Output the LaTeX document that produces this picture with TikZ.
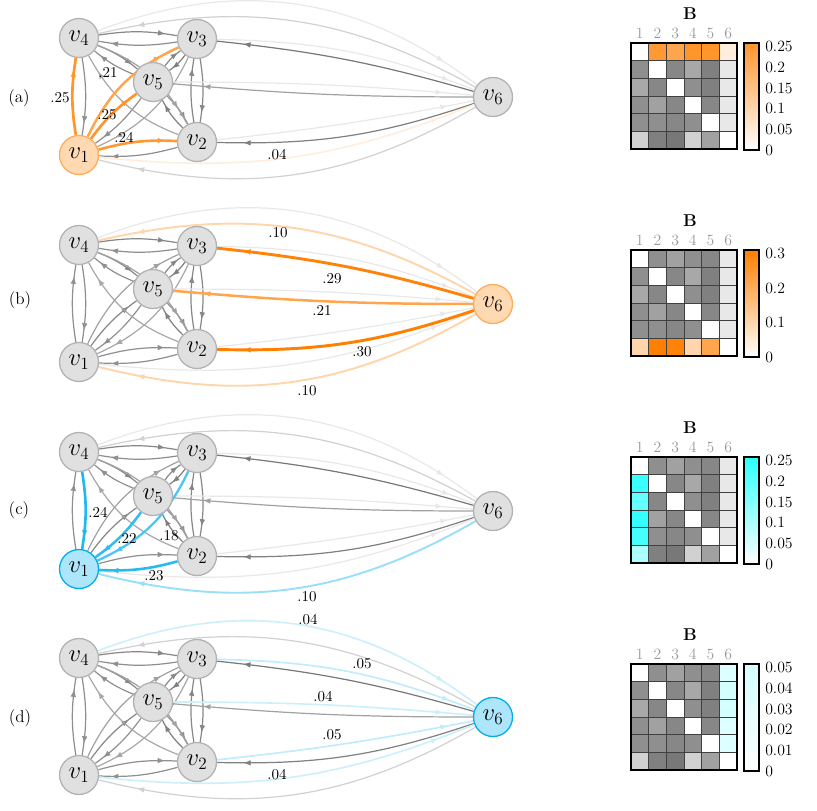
\documentclass[tikz,border=0pt]{standalone}
\usetikzlibrary{arrows.meta,decorations.markings,backgrounds}
\definecolor{eor}{RGB}{255,127,0}
\definecolor{ecy}{RGB}{0,174,239}
\definecolor{mcy}{RGB}{0,255,255}
\tikzset{
  vn/.style={circle, minimum size=27.3pt, inner sep=0pt, line width=0.9pt, draw=black!30, fill=black!12, font=\LARGE},
  vor/.style={vn, draw=eor!65!white, fill=eor!30!white},
  vcy/.style={vn, draw=ecy, fill=ecy!32!white},
  ge/.style={line width=0.85pt},
  arr/.style={postaction={decorate, decoration={markings, mark=at position #1 with {\arrow{Latex[length=5.2pt,width=4pt]}}}}},
  elab/.style={font=\fontsize{10.5}{12}\selectfont, inner sep=0pt},
  plab/.style={font=\large, inner sep=0pt},
  cbl/.style={anchor=west, inner sep=0pt, font=\fontsize{11}{13}\selectfont},
  coln/.style={text=black!40, inner sep=0pt, font=\fontsize{11}{13}\selectfont},
  mtitle/.style={inner sep=0pt, font=\large},
}
\newcommand\vnodes[4]{%
  \begin{scope}[shift={(0,#2)}]
    \node[vn] (#14) at (79,38) {$v_4$};
    \node[vn] (#13) at (197,39) {$v_3$};
    \node[vn] (#15) at (153,82) {$v_5$};
    \node[vn] (#12) at (197,142) {$v_2$};
    \node[#3] (#11) at (79,155) {$v_1$};
    \node[#4] (#16) at (493,97) {$v_6$};
  \end{scope}}
\newcommand\grayedges[3]{%
  \foreach \va/\vb/\vbend/\vg/\vp in {4/3/9/47/.85, 3/4/9/44/.85, 4/1/9/44/.85, 1/4/9/44/.85,
     3/2/9/47/.85, 2/3/9/47/.85, 1/2/9/44/.85, 2/1/9/44/.85, 4/5/9/47/.85, 5/4/9/44/.85,
     3/5/9/50/.85, 5/3/9/47/.85, 2/5/9/50/.85, 5/2/9/44/.85, 1/5/9/47/.85, 5/1/9/44/.85,
     4/2/20/37/.85, 2/4/20/34/.85, 1/3/20/37/.85, 3/1/20/34/.85,
     4/6/29/9/.9, 6/4/-21/18/.9, 3/6/10/9/.9, 6/3/-5/53/.9, 5/6/2.5/9/.9, 6/5/2.5/37/.9,
     2/6/-2.5/9/.9, 6/2/10/50/.9, 1/6/-14/9/.9, 6/1/22/18/.9}{%
    \ifnum\va=#2\relax\else\ifnum\vb=#3\relax\else
      \draw[ge, color=black!\vg, arr=\vp] (#1\va) to[bend left=\vbend] (#1\vb);
    \fi\fi}}
\newcommand\hedge[7]{\draw[color=#5, line width=#6, arr=#7] (#1#2) to[bend left=#4] (#1#3);}
\newcommand\bmat[5]{%
  \begin{scope}[shift={(631,43+#2)}]
    \fill[white] (0,0) rectangle (106,106);
    \foreach \r/\c/\g in {1/2/44, 1/3/37, 1/4/44, 1/5/47, 1/6/9,
        2/1/44, 2/3/47, 2/4/34, 2/5/50, 2/6/9,
        3/1/34, 3/2/47, 3/4/44, 3/5/50, 3/6/9,
        4/1/44, 4/2/37, 4/3/47, 4/5/47, 4/6/9,
        5/1/44, 5/2/44, 5/3/47, 5/4/44, 5/6/9,
        6/1/18, 6/2/50, 6/3/53, 6/4/18, 6/5/37}
      \fill[fill=black!\g] ({(\c-1)*17.667},{(\r-1)*17.667}) rectangle ++(17.667,17.667);
    \foreach \r/\c/\col in {#3}
      \fill[fill=\col] ({(\c-1)*17.667},{(\r-1)*17.667}) rectangle ++(17.667,17.667);
    \foreach \k in {1,...,5}{
      \draw[black!75, line width=0.7pt] ({\k*17.667},0) -- ++(0,106);
      \draw[black!75, line width=0.7pt] (0,{\k*17.667}) -- ++(106,0);}
    \draw[black, line width=0.9pt] (0,0) rectangle (106,106);
    \node[mtitle] (#1B) at (59,-29) {$\mathbf{B}$};
    \foreach \c in {1,...,6} \node[coln] (#1c\c) at ({(\c-0.5)*17.667},-10) {\c};
    \shade[bottom color=white, top color=#4] (113,0) rectangle (128,107);
    \draw[black, line width=0.8pt] (113,0) rectangle (128,107);
    \foreach \vt/\yy [count=\n] in {#5} \node[cbl] (#1t\n) at (134,\yy) {\vt};
  \end{scope}}
\begin{document}
\begin{tikzpicture}[x=0.7pt, y=-0.7pt]
\useasboundingbox (0,0) rectangle (817,810);
% panel labels
\node[plab] (pa) at (19,98) {(a)};
\node[plab] (pb) at (20,300) {(b)};
\node[plab] (pc) at (19,510) {(c)};
\node[plab] (pd) at (20,718) {(d)};
% nodes
\vnodes{a}{0}{vor}{vn}
\vnodes{b}{207}{vn}{vor}
\vnodes{c}{414}{vcy}{vn}
\vnodes{d}{620}{vn}{vcy}
\begin{scope}[on background layer]
  \grayedges{a}{1}{0}
  \grayedges{b}{6}{0}
  \grayedges{c}{0}{1}
  \grayedges{d}{0}{6}
  % (a) out of v1
  \hedge{a}{1}{6}{-14}{eor!13!white}{1.14pt}{.9}
  \hedge{a}{1}{2}{9}{eor!80!white}{1.84pt}{.85}
  \hedge{a}{1}{3}{20}{eor!70!white}{1.74pt}{.85}
  \hedge{a}{1}{4}{9}{eor!83!white}{1.88pt}{.85}
  \hedge{a}{1}{5}{9}{eor!83!white}{1.88pt}{.85}
  % (b) out of v6
  \hedge{b}{6}{1}{22}{eor!33!white}{1.35pt}{.9}
  \hedge{b}{6}{4}{-21}{eor!33!white}{1.35pt}{.9}
  \hedge{b}{6}{5}{2.5}{eor!70!white}{1.74pt}{.9}
  \hedge{b}{6}{3}{-5}{eor!97!white}{2.02pt}{.9}
  \hedge{b}{6}{2}{10}{eor}{2.05pt}{.9}
  % (c) into v1
  \hedge{c}{6}{1}{22}{ecy!40!white}{1.35pt}{.9}
  \hedge{c}{3}{1}{20}{ecy!70!white}{1.63pt}{.85}
  \hedge{c}{2}{1}{9}{ecy!85!white}{1.8pt}{.85}
  \hedge{c}{4}{1}{9}{ecy!88!white}{1.84pt}{.85}
  \hedge{c}{5}{1}{9}{ecy!82!white}{1.77pt}{.85}
  % (d) into v6
  \hedge{d}{1}{6}{-14}{ecy!20!white}{1.14pt}{.9}
  \hedge{d}{2}{6}{-2.5}{ecy!24!white}{1.18pt}{.9}
  \hedge{d}{3}{6}{10}{ecy!24!white}{1.18pt}{.9}
  \hedge{d}{4}{6}{29}{ecy!20!white}{1.14pt}{.9}
  \hedge{d}{5}{6}{2.5}{ecy!20!white}{1.14pt}{.9}
\end{scope}
% edge labels
\node[elab] (la1) at (60,98) {.25};
\node[elab] (la2) at (108,73) {.21};
\node[elab] (la3) at (107,115) {.25};
\node[elab] (la4) at (124,137) {.24};
\node[elab] (la5) at (277,155) {.04};
\node[elab] (lb1) at (278,233) {.10};
\node[elab] (lb2) at (332,279) {.29};
\node[elab] (lb3) at (322,310) {.21};
\node[elab] (lb4) at (362,352) {.30};
\node[elab] (lb5) at (307,391) {.10};
\node[elab] (lc1) at (98,512) {.24};
\node[elab] (lc2) at (127,538) {.22};
\node[elab] (lc3) at (169,536) {.18};
\node[elab] (lc4) at (154,576) {.23};
\node[elab] (lc5) at (307,597) {.10};
\node[elab] (ld1) at (308,620) {.04};
\node[elab] (ld2) at (362,664) {.05};
\node[elab] (ld3) at (323,697) {.04};
\node[elab] (ld4) at (332,735) {.05};
\node[elab] (ld5) at (277,775) {.04};
% matrices
\bmat{ma}{0}{1/2/eor!80!white, 1/3/eor!70!white, 1/4/eor!83!white, 1/5/eor!83!white, 1/6/eor!13!white}{eor!83!white}{0.25/3.5, 0.2/24.3, 0.15/45.1, 0.1/65.9, 0.05/86.7, 0/107.5}
\bmat{mb}{207}{6/1/eor!33!white, 6/2/eor, 6/3/eor!97!white, 6/4/eor!33!white, 6/5/eor!70!white}{eor}{0.3/3.5, 0.2/38.2, 0.1/72.8, 0/107.5}
\bmat{mc}{414}{2/1/mcy!77!white, 3/1/mcy!60!white, 4/1/mcy!80!white, 5/1/mcy!73!white, 6/1/mcy!33!white}{mcy!83!white}{0.25/3.5, 0.2/24.3, 0.15/45.1, 0.1/65.9, 0.05/86.7, 0/107.5}
\bmat{md}{621}{1/6/mcy!13!white, 2/6/mcy!17!white, 3/6/mcy!17!white, 4/6/mcy!13!white, 5/6/mcy!13!white}{mcy!17!white}{0.05/3.5, 0.04/24.3, 0.03/45.1, 0.02/65.9, 0.01/86.7, 0/107.5}
\end{tikzpicture}
\end{document}
